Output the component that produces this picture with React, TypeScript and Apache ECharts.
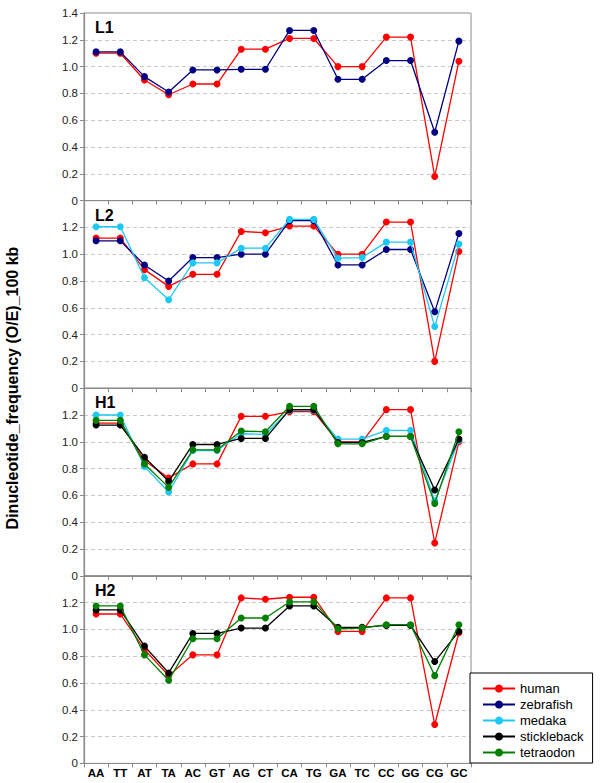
import React, { useEffect, useRef } from "react";
import * as echarts from "echarts";

const categories = ["AA", "TT", "AT", "TA", "AC", "GT", "AG", "CT", "CA", "TG", "GA", "TC", "CC", "GG", "CG", "GC"];
const panelNames = ["L1", "L2", "H1", "H2"];
const speciesNames = ["human", "zebrafish", "medaka", "stickleback", "tetraodon"];
const speciesColors = ["#ff0000", "#000080", "#1ec8f5", "#000000", "#008000"];

const L1_human = [1.10, 1.10, 0.90, 0.79, 0.87, 0.87, 1.13, 1.13, 1.21, 1.21, 1.00, 1.00, 1.22, 1.22, 0.18, 1.04];
const L1_zebrafish = [1.11, 1.11, 0.925, 0.81, 0.975, 0.975, 0.98, 0.98, 1.27, 1.27, 0.905, 0.905, 1.045, 1.045, 0.51, 1.19];

const L2_human = [1.12, 1.12, 0.885, 0.76, 0.85, 0.85, 1.17, 1.16, 1.21, 1.21, 1.00, 1.00, 1.24, 1.24, 0.20, 1.02];
const L2_zebrafish = [1.10, 1.10, 0.92, 0.80, 0.975, 0.975, 1.00, 1.00, 1.25, 1.25, 0.92, 0.92, 1.035, 1.035, 0.57, 1.155];
const L2_medaka = [1.205, 1.205, 0.825, 0.66, 0.935, 0.935, 1.045, 1.045, 1.26, 1.26, 0.97, 0.975, 1.09, 1.09, 0.46, 1.075];

const H1_human = [1.14, 1.14, 0.86, 0.73, 0.835, 0.835, 1.19, 1.19, 1.225, 1.225, 1.00, 1.00, 1.24, 1.24, 0.245, 1.00];
const H1_medaka = [1.20, 1.20, 0.815, 0.625, 0.935, 0.935, 1.06, 1.055, 1.235, 1.235, 1.02, 1.02, 1.085, 1.085, 0.56, 1.01];
const H1_stickleback = [1.125, 1.125, 0.885, 0.705, 0.98, 0.98, 1.025, 1.025, 1.24, 1.24, 0.995, 0.995, 1.04, 1.04, 0.64, 1.02];
const H1_tetraodon = [1.16, 1.16, 0.835, 0.66, 0.94, 0.94, 1.08, 1.075, 1.265, 1.265, 0.985, 0.985, 1.04, 1.04, 0.54, 1.075];

const H2_human = [1.115, 1.115, 0.85, 0.655, 0.81, 0.81, 1.235, 1.225, 1.24, 1.24, 0.985, 0.985, 1.235, 1.235, 0.29, 0.975];
const H2_stickleback = [1.145, 1.145, 0.875, 0.675, 0.97, 0.97, 1.01, 1.01, 1.175, 1.175, 1.015, 1.015, 1.03, 1.03, 0.76, 0.985];
const H2_tetraodon = [1.175, 1.175, 0.81, 0.62, 0.93, 0.93, 1.085, 1.085, 1.205, 1.205, 1.005, 1.01, 1.035, 1.035, 0.655, 1.035];

const panelSeries: { panel: number; species: string; data: number[] }[] = [
  { panel: 0, species: "human", data: L1_human },
  { panel: 0, species: "zebrafish", data: L1_zebrafish },
  { panel: 1, species: "human", data: L2_human },
  { panel: 1, species: "zebrafish", data: L2_zebrafish },
  { panel: 1, species: "medaka", data: L2_medaka },
  { panel: 2, species: "human", data: H1_human },
  { panel: 2, species: "medaka", data: H1_medaka },
  { panel: 2, species: "stickleback", data: H1_stickleback },
  { panel: 2, species: "tetraodon", data: H1_tetraodon },
  { panel: 3, species: "human", data: H2_human },
  { panel: 3, species: "stickleback", data: H2_stickleback },
  { panel: 3, species: "tetraodon", data: H2_tetraodon },
];

const FONT = "Liberation Sans, Arial, sans-serif";

export default function App() {
  const ref = useRef<HTMLDivElement>(null);
  useEffect(() => {
    document.body.style.margin = "0";
    if (!ref.current) return;
    const chart = echarts.init(ref.current, null, { renderer: "svg" });
    const top0 = 13;
    const h = 187.6;
    const left = 84;
    const right = 600 - 471;
    const grids = panelNames.map((_, i) => ({
      left,
      right,
      top: top0 + i * h,
      height: h,
      show: true,
      borderColor: "#8a8a8a",
      borderWidth: 1,
      backgroundColor: "transparent",
    }));
    const xAxes = panelNames.map((_, i) => ({
      type: "category",
      gridIndex: i,
      data: categories,
      boundaryGap: true,
      axisLine: { lineStyle: { color: "#8a8a8a", width: 1.2 } },
      axisTick: { show: true, length: 4, lineStyle: { color: "#8a8a8a" } },
      axisLabel: {
        show: i === 3,
        interval: 0,
        fontFamily: FONT,
        fontWeight: "bold",
        fontSize: 11.5,
        color: "#000",
        margin: 4,
      },
      splitLine: { show: false },
    }));
    const yAxes = panelNames.map((_, i) => ({
      type: "value",
      gridIndex: i,
      min: 0,
      max: 1.4,
      interval: 0.2,
      axisLine: { show: true, lineStyle: { color: "#8a8a8a", width: 1.2 } },
      axisTick: { show: true, length: 4, lineStyle: { color: "#8a8a8a" } },
      axisLabel: {
        fontFamily: FONT,
        fontSize: 11.5,
        color: "#222",
        margin: 6,
        showMaxLabel: i === 0,
        formatter: (v: number) => (Math.abs(v) < 1e-9 ? "0" : v.toFixed(1)),
      },
      splitLine: { show: true, lineStyle: { color: "#c8c8c8", type: [4, 3], width: 1 } },
    }));
    const series = panelSeries.map((s) => {
      const idx = speciesNames.indexOf(s.species);
      return {
        type: "line",
        name: s.species,
        xAxisIndex: s.panel,
        yAxisIndex: s.panel,
        data: s.data,
        symbol: "circle",
        symbolSize: 7,
        color: speciesColors[idx],
        lineStyle: { width: 1.3, color: speciesColors[idx] },
        itemStyle: { color: speciesColors[idx] },
        z: 2 + idx,
      };
    });
    const graphics: any[] = panelNames.map((name, i) => ({
      type: "text",
      left: 95,
      top: top0 + i * h + 6.5,
      style: { text: name, font: `bold 16px ${FONT}`, fill: "#000" },
    }));
    graphics.push({
      type: "text",
      x: 12,
      y: 388,
      rotation: Math.PI / 2,
      style: {
        text: "Dinucleotide_frequency (O/E)_100 kb",
        font: `bold 16px ${FONT}`,
        fill: "#000",
        align: "center",
        verticalAlign: "middle",
      },
    });
    chart.setOption({
      animation: false,
      backgroundColor: "#fff",
      grid: grids,
      xAxis: xAxes,
      yAxis: yAxes,
      series,
      graphic: graphics,
      legend: {
        orient: "vertical",
        left: 470,
        top: 673,
        data: speciesNames.map((n, i) => ({ name: n, itemStyle: { color: speciesColors[i] } })),
        itemWidth: 32,
        itemHeight: 10,
        itemGap: 3,
        padding: [9, 9, 4, 12],
        borderColor: "#000",
        borderWidth: 1,
        backgroundColor: "#fff",
        textStyle: { fontFamily: FONT, fontSize: 13, color: "#000" },
        selectedMode: false,
      },
    });
    return () => chart.dispose();
  }, []);
  return <div ref={ref} style={{ width: 600, height: 783 }} />;
}
